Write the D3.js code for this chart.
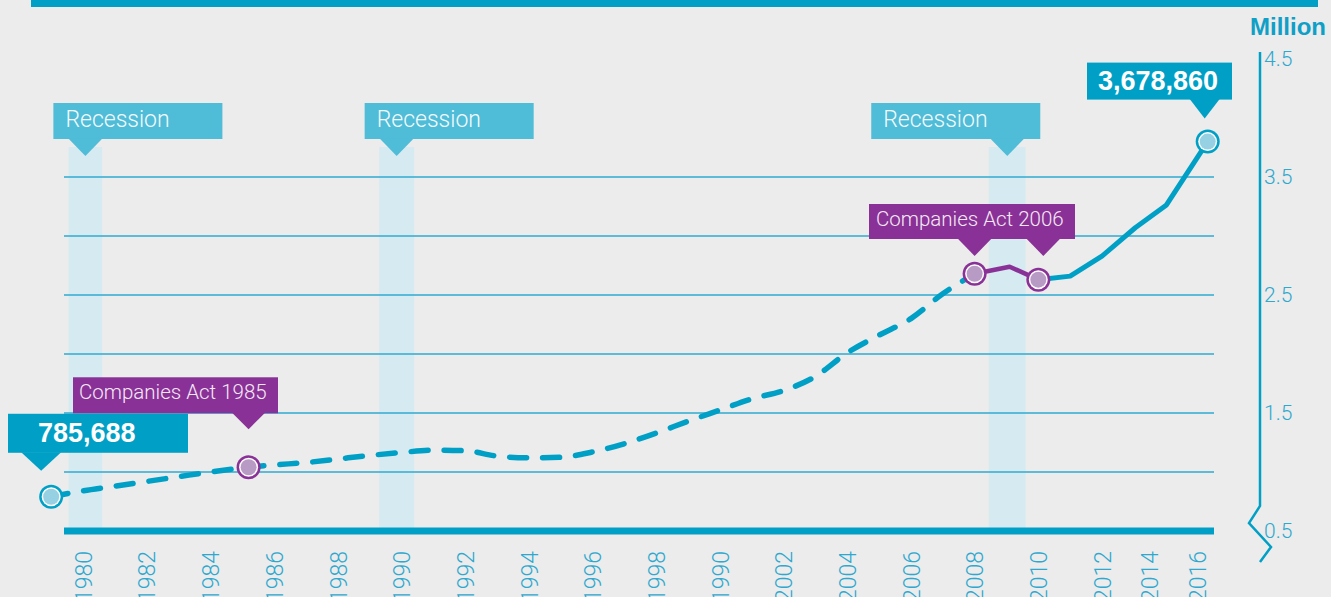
<!DOCTYPE html>
<html>
<head>
<meta charset="utf-8">
<script src="https://cdn.jsdelivr.net/npm/d3@7"></script>
<style>
    body { margin: 0; background: #ebeceb; }
    svg { display: block; }
</style>
</head>
<body>
<script>
// x tick labels (the "1990" after 1998 is how the original is printed)
var yearTicks  = [1980, 1982, 1984, 1986, 1988, 1990, 1992, 1994, 1996, 1998, 2000, 2002, 2004, 2006, 2008, 2010, 2012, 2014, 2016];
var yearLabels = ['1980', '1982', '1984', '1986', '1988', '1990', '1992', '1994', '1996', '1998', '1990', '2002', '2004', '2006', '2008', '2010', '2012', '2014', '2016'];

// companies on the register, millions (dashed part of the line)
var dashedYears  = [1979, 1980, 1981, 1982, 1983, 1984, 1985.2, 1986, 1987, 1988, 1989, 1990, 1991, 1992, 1993, 1994, 1995, 1996, 1997, 1998, 1999, 2000, 2001, 2002, 2003, 2004, 2005, 2006, 2007, 2008];
var dashedValues = [0.79, 0.84, 0.88, 0.92, 0.96, 1.00, 1.04, 1.06, 1.08, 1.11, 1.14, 1.165, 1.185, 1.18, 1.135, 1.12, 1.125, 1.17, 1.24, 1.33, 1.43, 1.525, 1.62, 1.69, 1.81, 2.01, 2.16, 2.30, 2.51, 2.68];

// Companies Act 2006 period
var actYears  = [2008, 2009.1, 2010];
var actValues = [2.68, 2.74, 2.63];

// solid part
var recentYears  = [2010, 2011, 2012, 2013.4, 2014.7, 2016.45];
var recentValues = [2.63, 2.66, 2.83, 3.07, 3.26, 3.80];

var recessionStart = [1979.55, 1989.3, 2008.45];
var recessionEnd   = [1980.6, 1990.4, 2009.6];

var axisTicks  = [0.5, 1.5, 2.5, 3.5, 4.5];
var gridValues = [1, 1.5, 2, 2.5, 3, 3.5];

var firstLabel = '785,688';
var lastLabel  = '3,678,860';

var W = 1331, H = 597;
var blue = '#00a0c6', lightBlue = '#4fbcd8', purple = '#8a3197';
var lightFont = 'Roboto, "Liberation Sans", sans-serif';
var boldFont = '"Liberation Sans", Arial, sans-serif';

var svg = d3.select('body').append('svg').attr('width', W).attr('height', H);

// end of the axis is squeezed in the original
var x = d3.scaleLinear().domain([1980, 2012, 2016]).range([83, 1102, 1197]);
var y = d3.scaleLinear().domain([0.5, 4.5]).range([531, 59]);

svg.append('rect').attr('width', W).attr('height', H).attr('fill', '#ebeceb');
svg.append('rect').attr('x', 31).attr('y', 0).attr('width', 1287).attr('height', 7).attr('fill', blue);

/*
 * recession bands
 */
svg.selectAll('rect.band')
    .data(recessionStart)
    .enter()
    .append('rect')
    .attr('class', 'band')
    .attr('x', function(d) { return x(d); })
    .attr('width', function(d, i) { return x(recessionEnd[i]) - x(d); })
    .attr('y', 147)
    .attr('height', y(0.5) - 147)
    .attr('fill', '#d6eaf2');

// gridlines
svg.selectAll('line.grid')
    .data(gridValues)
    .enter()
    .append('line')
    .attr('class', 'grid')
    .attr('x1', 64).attr('x2', 1214)
    .attr('y1', function(d) { return y(d); })
    .attr('y2', function(d) { return y(d); })
    .attr('stroke', '#2fabd1')
    .attr('stroke-width', 1.5);

svg.append('rect')
    .attr('x', 64).attr('width', 1150)
    .attr('y', y(0.5) - 3.5).attr('height', 7)
    .attr('fill', blue);

/*
 * the line: dashed, purple, solid
 */
function pts(xs, vs) {
    return xs.map(function(d, i) { return [x(d), y(vs[i])]; });
}

svg.append('path')
    .attr('d', d3.line().curve(d3.curveMonotoneX)(pts(dashedYears, dashedValues)))
    .attr('fill', 'none')
    .attr('stroke', blue)
    .attr('stroke-width', 5.5)
    .attr('stroke-linecap', 'round')
    .attr('stroke-dasharray', '17,16');

svg.append('path')
    .attr('d', d3.line()(pts(actYears, actValues)))
    .attr('fill', 'none')
    .attr('stroke', purple)
    .attr('stroke-width', 4.5)
    .attr('stroke-linejoin', 'round');

svg.append('path')
    .attr('d', d3.line()(pts(recentYears, recentValues)))
    .attr('fill', 'none')
    .attr('stroke', blue)
    .attr('stroke-width', 5)
    .attr('stroke-linejoin', 'round');

function marker(px, py, ring, fill) {
    svg.append('circle').attr('cx', px).attr('cy', py).attr('r', 12).attr('fill', ring);
    svg.append('circle').attr('cx', px).attr('cy', py).attr('r', 9.5).attr('fill', '#fff');
    svg.append('circle').attr('cx', px).attr('cy', py).attr('r', 8).attr('fill', fill);
}

/*
 * box with one or more pointers hanging from its bottom edge
 * apexes: list of [x, y] tips, all on the same y
 */
function callout(left, width, height, apexes, pw, ph, color) {
    var bottom = apexes[0][1] - ph;
    var g = svg.append('g');
    g.append('rect')
        .attr('x', left).attr('y', bottom - height)
        .attr('width', width).attr('height', height)
        .attr('fill', color);
    apexes.forEach(function(a) {
        g.append('path')
            .attr('d', 'M' + (a[0] - pw / 2) + ',' + (bottom - 0.5) + 'L' + (a[0] + pw / 2) + ',' + (bottom - 0.5) + 'L' + a[0] + ',' + a[1] + 'Z')
            .attr('fill', color);
    });
    return { g: g, top: bottom - height, bottom: bottom };
}

// recession labels; the last one hangs to the left of its pointer
recessionStart.forEach(function(d, i) {
    var cx = (x(d) + x(recessionEnd[i])) / 2;
    var left = i == recessionStart.length - 1 ? cx - 136 : cx - 32;
    var c = callout(left, 169, 36, [[cx, 156]], 34, 17, lightBlue);
    c.g.append('text')
        .attr('x', left + 12).attr('y', c.bottom - 12)
        .attr('font-family', lightFont).attr('font-weight', 300)
        .attr('font-size', 23).attr('fill', '#f4fbfd')
        .text('Recession');
});

// markers
var p0 = [x(dashedYears[0]), y(dashedValues[0])];
var pAct85 = [x(1985.2), y(1.04)];
var pA = [x(actYears[0]), y(actValues[0])];
var pB = [x(actYears[2]), y(actValues[2])];
var pEnd = [x(recentYears[recentYears.length - 1]), y(recentValues[recentValues.length - 1])];

marker(p0[0], p0[1], blue, '#95d0e3');
marker(pAct85[0], pAct85[1], purple, '#b89bc4');
marker(pA[0], pA[1], purple, '#b89bc4');
marker(pB[0], pB[1], purple, '#b89bc4');
marker(pEnd[0], pEnd[1], blue, '#95d0e3');

// Companies Act labels
var c85 = callout(73, 205, 36, [[pAct85[0], pAct85[1] - 38]], 33, 16, purple);
c85.g.append('text')
    .attr('x', 79).attr('y', c85.bottom - 14)
    .attr('font-family', lightFont).attr('font-weight', 300)
    .attr('font-size', 20.5).attr('fill', '#f3e9f5')
    .text('Companies Act 1985');

var c06 = callout(869, 206, 35, [[pA[0], 256], [pB[0] + 5, 256]], 34, 17, purple);
c06.g.append('text')
    .attr('x', 876).attr('y', c06.bottom - 13)
    .attr('font-family', lightFont).attr('font-weight', 300)
    .attr('font-size', 20.5).attr('fill', '#f3e9f5')
    .text('Companies Act 2006');

// value labels
var cFirst = callout(8, 180, 39, [[p0[0] - 10, p0[1] - 26]], 40, 18, blue);
cFirst.g.append('text')
    .attr('x', 38).attr('y', cFirst.bottom - 11)
    .attr('font-family', boldFont).attr('font-weight', 'bold')
    .attr('font-size', 27).attr('fill', '#fff')
    .text(firstLabel);

var cLast = callout(1087, 145, 37, [[pEnd[0] - 3, pEnd[1] - 23]], 30, 19, blue);
cLast.g.append('text')
    .attr('x', 1098).attr('y', cLast.bottom - 10)
    .attr('font-family', boldFont).attr('font-weight', 'bold')
    .attr('font-size', 27).attr('fill', '#fff')
    .text(lastLabel);

/*
 * axes
 */
var xAxis = svg.append('g')
    .attr('transform', 'translate(0,551)')
    .call(d3.axisBottom(x).tickValues(yearTicks).tickSize(0)
        .tickFormat(function(d, i) { return yearLabels[i]; }));
xAxis.select('.domain').remove();
xAxis.selectAll('text')
    .attr('transform', 'rotate(-90)')
    .attr('text-anchor', 'end')
    .attr('x', 0).attr('y', 0).attr('dy', '0.36em')
    .attr('font-family', lightFont).attr('font-weight', 300)
    .attr('font-size', 23).attr('fill', '#2ea8cf');

var yAxis = svg.append('g')
    .attr('transform', 'translate(1260,0)')
    .call(d3.axisRight(y).tickValues(axisTicks).tickSize(0).tickPadding(4));
yAxis.select('.domain').remove();
yAxis.selectAll('text')
    .attr('dy', '0.3em')
    .attr('font-family', lightFont).attr('font-weight', 300)
    .attr('font-size', 21).attr('fill', '#2ea8cf');

// axis line with the break at the bottom
var b = y(0.5);
svg.append('path')
    .attr('d', 'M1260,' + (y(4.5) - 7) + 'L1260,' + (b - 25) + 'L1249,' + (b - 8) + 'L1271,' + (b + 16) + 'L1260,' + (b + 31))
    .attr('fill', 'none')
    .attr('stroke', blue)
    .attr('stroke-width', 2.5);

svg.append('text')
    .attr('x', 1250).attr('y', 35)
    .attr('font-family', boldFont).attr('font-weight', 'bold')
    .attr('font-size', 24).attr('fill', '#0f9fc7')
    .text('Million');
</script>
</body>
</html>
